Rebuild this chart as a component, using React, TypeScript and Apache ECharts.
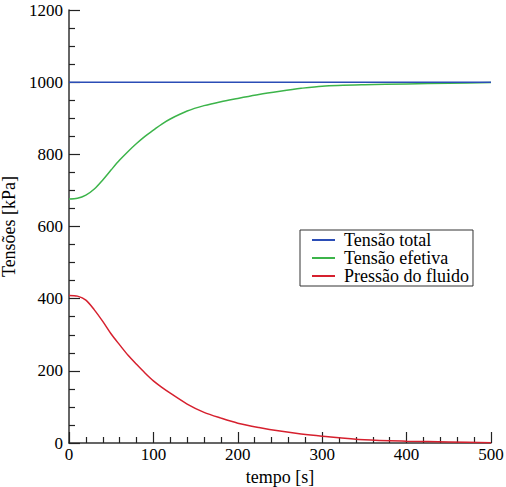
import React, { useEffect, useRef } from "react";
import * as echarts from "echarts";

const tempo = [0, 10, 20, 30, 40, 50, 60, 70, 80, 90, 100, 110, 120, 140, 160, 180, 200, 225, 250, 275, 300, 350, 400, 450, 500];
const tensaoTotal = [1000, 1000, 1000, 1000, 1000, 1000, 1000, 1000, 1000, 1000, 1000, 1000, 1000, 1000, 1000, 1000, 1000, 1000, 1000, 1000, 1000, 1000, 1000, 1000, 1000];
const tensaoEfetiva = [676, 678, 687, 704, 729, 757, 784, 808, 830, 850, 867, 884, 898, 920, 935, 946, 955, 966, 975, 983, 989, 993, 995, 997, 999];
const pressaoFluido = [409, 407, 396, 369, 337, 302, 272, 243, 218, 194, 172, 154, 138, 108, 85, 69, 55, 43, 33, 25, 19, 9, 5, 3, 1];
const seriesNames = ["Tensão total", "Tensão efetiva", "Pressão do fluido"];
const colors = ["#2b4db6", "#3cb44a", "#d6202e"];

const FONT = "Liberation Serif";

export default function App() {
  const ref = useRef<HTMLDivElement>(null);
  useEffect(() => {
    if (!ref.current) return;
    const chart = echarts.init(ref.current, null, { renderer: "svg" });
    const values = [tensaoTotal, tensaoEfetiva, pressaoFluido];
    chart.setOption({
      animation: false,
      grid: { left: 69, right: 15, top: 10, bottom: 44, containLabel: false, outerBoundsMode: "none" },
      legend: {
        orient: "vertical",
        left: 300,
        top: 230,
        icon: "rect",
        itemWidth: 23,
        itemHeight: 2,
        itemGap: 0,
        padding: [1, 4, 1, 12],
        borderColor: "#333",
        borderWidth: 1,
        borderRadius: 0,
        backgroundColor: "#fff",
        textStyle: {
          color: "#000",
          rich: { a: { fontFamily: FONT, fontSize: 18, color: "#000", padding: [0, 0, 0, 4], lineHeight: 21 } },
        },
        formatter: (n: string) => "{a|" + n + "}",
        data: seriesNames,
      },
      xAxis: {
        type: "value",
        min: 0,
        max: 500,
        interval: 100,
        name: "{a|tempo [s]}",
        nameLocation: "middle",
        nameGap: 14,
        nameTextStyle: { rich: { a: { fontFamily: FONT, fontSize: 18, color: "#000" } } },
        axisLine: { show: true, onZero: false, lineStyle: { color: "#333", width: 1.5 } },
        axisTick: { show: true, inside: true, length: 11, lineStyle: { color: "#222", width: 1.2 } },
        minorTick: { show: true, splitNumber: 5, length: 6, lineStyle: { color: "#222", width: 1.2 } },
        axisLabel: {
          margin: 3,
          formatter: (v: number) => "{a|" + v + "}",
          rich: { a: { fontFamily: FONT, fontSize: 17, color: "#000" } },
        },
        splitLine: { show: false },
      },
      yAxis: {
        type: "value",
        min: 0,
        max: 1200,
        interval: 200,
        name: "{a|Tensões [kPa]}",
        nameLocation: "middle",
        nameGap: 34,
        nameTextStyle: { rich: { a: { fontFamily: FONT, fontSize: 18, color: "#000" } } },
        axisLine: { show: true, lineStyle: { color: "#333", width: 1.5 } },
        axisTick: { show: true, inside: true, length: 11, lineStyle: { color: "#222", width: 1.2 } },
        minorTick: { show: true, splitNumber: 4, length: 6, lineStyle: { color: "#222", width: 1.2 } },
        axisLabel: {
          margin: 6,
          formatter: (v: number) => "{a|" + v + "}",
          rich: { a: { fontFamily: FONT, fontSize: 17, color: "#000" } },
        },
        splitLine: { show: false },
      },
      series: seriesNames.map((name, i) => ({
        name,
        type: "line",
        data: tempo.map((t, j) => [t, values[i][j]]),
        symbol: "none",
        smooth: 0.3,
        color: colors[i],
        lineStyle: { color: colors[i], width: 1.5 },
        z: 3 - i,
      })),
    });
    return () => chart.dispose();
  }, []);
  return <div ref={ref} style={{ width: 506, height: 487, position: "absolute", left: 0, top: 0 }} />;
}
